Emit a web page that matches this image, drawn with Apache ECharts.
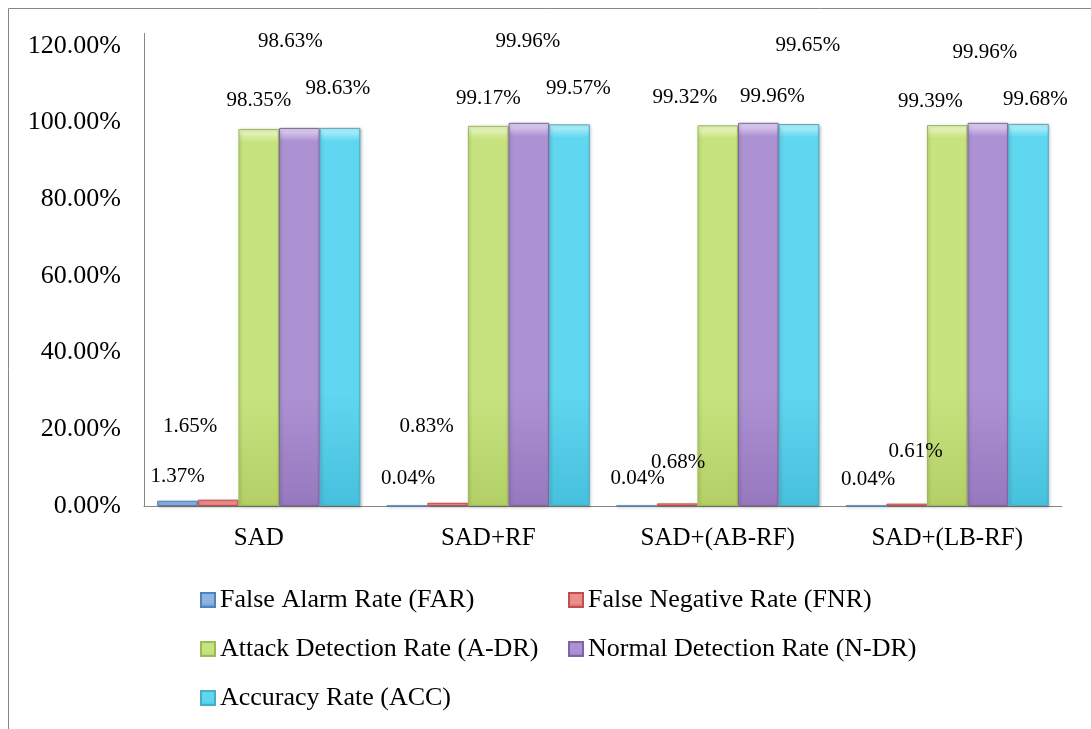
<!DOCTYPE html>
<html>
<head>
<meta charset="utf-8">
<title>Detection performance comparison</title>
<script src="https://cdn.jsdelivr.net/npm/echarts@6/dist/echarts.min.js"></script>
<style>
  html, body { margin: 0; padding: 0; background: #ffffff; }
  #chart { width: 1091px; height: 729px; }
</style>
</head>
<body>
<div id="chart"></div>
<script>
// ---- data ----
const categories = ['SAD', 'SAD+RF', 'SAD+(AB-RF)', 'SAD+(LB-RF)'];
const farValues = [1.37, 0.04, 0.04, 0.04];
const fnrValues = [1.65, 0.83, 0.68, 0.61];
const adrValues = [98.35, 99.17, 99.32, 99.39];
const ndrValues = [98.63, 99.96, 99.96, 99.96];
const accValues = [98.63, 99.57, 99.65, 99.68];
const seriesNames = [
  'False Alarm Rate (FAR)',
  'False Negative Rate (FNR)',
  'Attack Detection Rate (A-DR)',
  'Normal Detection Rate (N-DR)',
  'Accuracy Rate (ACC)'
];
const yMin = 0, yMax = 120, yStep = 20;

// ---- label placement (pixel nudges from each bar's top centre) ----
const labelNudge = [
  [[0, -24], [1, -27], [1, -27], [2, -26]],
  [[-28, -73], [-21, -76], [1, -41], [9, -52]],
  [[0, -29], [0, -27], [-33, -28], [-17, -24]],
  [[-9, -86], [-1, -81], [14, -26], [-3, -70]],
  [[-2, -39], [9, -36], [9, -79], [7, -24]]
];

// ---- bevel-like fills ----
const FONT = "'Liberation Serif', 'Times New Roman', serif";
const palette = [
  { top: '#dbe8f7', mid: '#8fb4e3', bot: '#5b8cc9', edge: '#4f81bd' },
  { top: '#fbd9d8', mid: '#ec8f8c', bot: '#d0605d', edge: '#c0504d' },
  { top: '#eefacb', mid: '#c7e37f', bot: '#b3cf66', edge: '#9bbb59' },
  { top: '#e7dbf5', mid: '#ad92d3', bot: '#9678be', edge: '#8064a2' },
  { top: '#c3f6fd', mid: '#60d7f0', bot: '#47c0dd', edge: '#4bacc6' }
];
function fill(p) {
  return new echarts.graphic.LinearGradient(0, 0, 0, 1, [
    { offset: 0, color: p.top },
    { offset: 0.035, color: p.mid },
    { offset: 0.7, color: p.mid },
    { offset: 1, color: p.bot }
  ]);
}

const allValues = [farValues, fnrValues, adrValues, ndrValues, accValues];

const series = allValues.map((vals, si) => ({
  name: seriesNames[si],
  type: 'bar',
  barGap: '0%',
  barCategoryGap: '11.5%',
  itemStyle: {
    color: fill(palette[si]),
    borderColor: palette[si].edge,
    borderWidth: 1,
    shadowColor: 'rgba(0,0,0,0.25)',
    shadowBlur: 3,
    shadowOffsetX: 1,
    shadowOffsetY: 1
  },
  label: {
    show: true,
    position: ['50%', 0],
    align: 'center',
    verticalAlign: 'middle',
    fontFamily: FONT,
    fontSize: 21,
    color: '#000',
    formatter: (p) => p.value.toFixed(2) + '%'
  },
  data: vals.map((v, ci) => ({
    value: v,
    label: { offset: labelNudge[si][ci] }
  }))
}));

const chart = echarts.init(document.getElementById('chart'), null, { renderer: 'canvas' });

const legendBase = {
  orient: 'vertical',
  top: 582,
  itemGap: 23,
  itemWidth: 14,
  itemHeight: 14,
  icon: 'rect',
  selectedMode: false,
  textStyle: { fontFamily: FONT, fontSize: 26, color: '#000' }
};

chart.setOption({
  backgroundColor: '#ffffff',
  animation: false,
  grid: { left: 144, right: 29, top: 46, bottom: 223 },
  legend: [
    Object.assign({}, legendBase, { left: 195, data: [seriesNames[0], seriesNames[2], seriesNames[4]] }),
    Object.assign({}, legendBase, { left: 563, data: [seriesNames[1], seriesNames[3]] })
  ],
  xAxis: {
    type: 'category',
    data: categories,
    axisTick: { show: false },
    axisLine: { lineStyle: { color: '#868686', width: 1 } },
    axisLabel: { fontFamily: FONT, fontSize: 25, color: '#000', margin: 20 }
  },
  yAxis: {
    type: 'value',
    min: yMin,
    max: yMax,
    interval: yStep,
    splitLine: { show: false },
    axisTick: { show: false },
    axisLine: { show: true, lineStyle: { color: '#868686', width: 1 } },
    axisLabel: {
      fontFamily: FONT,
      fontSize: 26,
      color: '#000',
      margin: 23,
      padding: [4, 0, 0, 0],
      formatter: (v) => v.toFixed(2) + '%'
    }
  },
  series: series,
  graphic: [
    // chart frame (left and top edges)
    { type: 'line', shape: { x1: 8.5, y1: 8.5, x2: 8.5, y2: 729 }, style: { stroke: '#868686', lineWidth: 1 } },
    { type: 'line', shape: { x1: 8.5, y1: 8.5, x2: 1091, y2: 8.5 }, style: { stroke: '#868686', lineWidth: 1 } },
    // wall edge above the top tick
    { type: 'line', shape: { x1: 144.5, y1: 33, x2: 144.5, y2: 46 }, style: { stroke: '#868686', lineWidth: 1 } }
  ]
});
</script>
</body>
</html>
